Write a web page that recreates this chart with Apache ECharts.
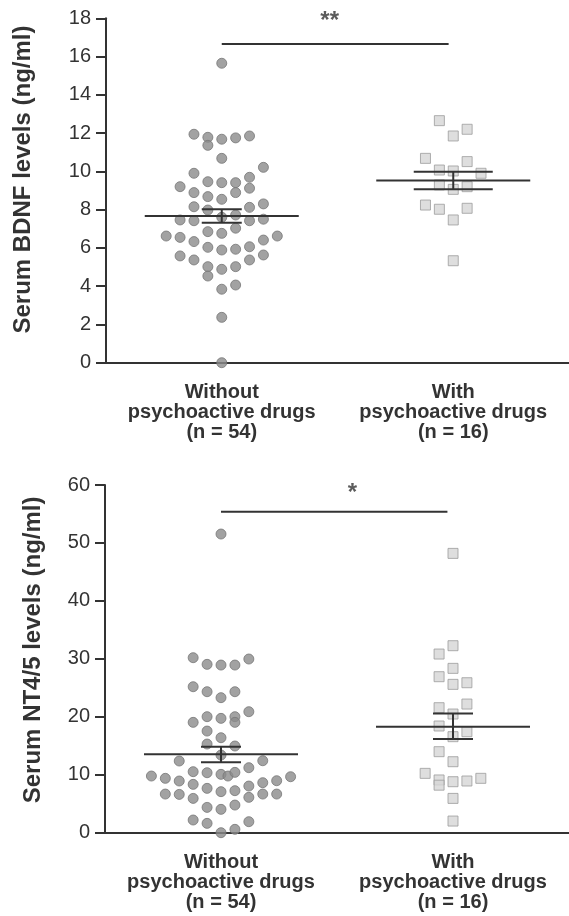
<!DOCTYPE html>
<html>
<head>
<meta charset="utf-8">
<script src="https://cdn.jsdelivr.net/npm/echarts@6/dist/echarts.min.js"></script>
<style>
  html, body { margin: 0; padding: 0; background: #fff; }
  #main { width: 569px; height: 916px; }
</style>
</head>
<body>
<div id="main"></div>
<script>
// groups on the x axis
const groups = ['Without\npsychoactive drugs\n(n = 54)', 'With\npsychoactive drugs\n(n = 16)'];

// swarm points: [column offset, value]
const bdnfWithout = [
  [0, 15.65], [-2, 11.94], [-1, 11.78], [0, 11.68], [1, 11.75], [2, 11.85], [-1, 11.36], [0, 10.68],
  [3, 10.21], [-2, 9.90], [2, 9.69], [-3, 9.20], [-1, 9.46], [0, 9.41], [1, 9.41], [2, 9.12],
  [-2, 8.89], [-1, 8.68], [0, 8.54], [1, 8.89], [-2, 8.15], [-1, 7.98], [2, 8.12], [3, 8.30],
  [-3, 7.46], [-2, 7.42], [0, 7.60], [1, 7.72], [2, 7.42], [3, 7.50], [-4, 6.62], [-3, 6.55],
  [-2, 6.33], [-1, 6.85], [0, 6.76], [1, 7.03], [3, 6.41], [4, 6.62], [-3, 5.58], [-2, 5.37],
  [-1, 6.03], [0, 5.89], [1, 5.93], [2, 6.06], [2, 5.37], [3, 5.63], [-1, 5.02], [0, 4.88],
  [1, 5.02], [-1, 4.53], [0, 3.84], [1, 4.06], [0, 2.37], [0, 0]
];
const bdnfWith = [
  [-1, 12.65], [1, 12.20], [0, 11.85], [-2, 10.68], [1, 10.51], [-1, 10.07], [0, 10.02], [2, 9.90],
  [-1, 9.29], [0, 9.06], [1, 9.20], [-2, 8.24], [-1, 8.02], [1, 8.07], [0, 7.46], [0, 5.33]
];
const ntWithout = [
  [0, 51.54], [-2, 30.2], [-1, 29.05], [0, 28.93], [1, 28.93], [2, 29.97], [-2, 25.19], [-1, 24.33],
  [0, 23.30], [1, 24.33], [2, 20.88], [-2, 19.04], [-1, 20.02], [0, 19.73], [1, 20.02], [1, 19.04],
  [-1, 17.54], [0, 16.39], [-1, 15.30], [1, 14.96], [0, 13.40], [-3, 12.37], [3, 12.42], [2, 11.22],
  [-2, 10.53], [-1, 10.35], [0, 10.07], [0.5, 9.78], [1, 10.41], [-5, 9.78], [-4, 9.38], [-3, 8.92],
  [-2, 8.34], [-1, 7.65], [0, 7.08], [1, 7.25], [2, 8.05], [3, 8.63], [4, 8.97], [5, 9.66],
  [-4, 6.67], [-3, 6.61], [-2, 5.92], [2, 6.10], [3, 6.67], [4, 6.67], [-1, 4.37], [0, 4.03],
  [1, 4.77], [-2, 2.19], [-1, 1.61], [2, 1.90], [0, 0], [1, 0.58]
];
const ntWith = [
  [0, 48.2], [0, 32.27], [-1, 30.83], [0, 28.36], [-1, 26.92], [0, 25.60], [1, 25.88], [-1, 21.57],
  [1, 22.20], [0, 20.48], [-1, 18.41], [1, 17.43], [0, 16.57], [-1, 13.98], [0, 12.25], [-2, 10.24],
  [-1, 9.1], [-1, 8.2], [0, 8.80], [1, 8.92], [2, 9.38], [0, 5.92], [0, 2.01]
];

// mean and SEM per group
const bdnfMean = [7.67, 9.52];
const bdnfSemLow = [7.32, 9.06];
const bdnfSemHigh = [8.02, 9.98];
const ntMean = [13.52, 18.29];
const ntSemLow = [12.14, 16.16];
const ntSemHigh = [14.84, 20.59];

// significance brackets: [from group, to group, level]
const bdnfSig = [0, 0.98, 16.66];
const ntSig = [0, 0.976, 55.39];
const bdnfStars = '**';
const ntStars = '*';

const colStep = 0.06;
const ink = '#333';

function swarm(points, groupIdx) {
  return points.map(p => [groupIdx + p[0] * colStep, p[1]]);
}

function meanSem(mean, lo, hi) {
  return mean.map((m, i) => [i, m, lo[i], hi[i]]);
}

function meanSemSeries(data, xi, yi, capHalf) {
  return {
    type: 'custom',
    xAxisIndex: xi,
    yAxisIndex: yi,
    z: 5,
    data: data,
    renderItem: function (params, api) {
      const x = api.value(0);
      const pm = api.coord([x, api.value(1)]);
      const plo = api.coord([x, api.value(2)]);
      const phi = api.coord([x, api.value(3)]);
      const c = capHalf[params.dataIndex];
      const style = {stroke: ink, lineWidth: 2};
      return {
        type: 'group',
        children: [
          {type: 'line', shape: {x1: pm[0] - 77, y1: pm[1], x2: pm[0] + 77, y2: pm[1]}, style: style},
          {type: 'line', shape: {x1: plo[0] - c, y1: plo[1], x2: plo[0] + c, y2: plo[1]}, style: style},
          {type: 'line', shape: {x1: phi[0] - c, y1: phi[1], x2: phi[0] + c, y2: phi[1]}, style: style},
          {type: 'line', shape: {x1: plo[0], y1: plo[1], x2: phi[0], y2: phi[1]}, style: style}
        ]
      };
    }
  };
}

function catAxis(gridIndex) {
  return {
    type: 'category',
    gridIndex: gridIndex,
    data: groups,
    axisLine: {onZero: false, lineStyle: {color: ink, width: 2}},
    axisTick: {alignWithLabel: true, length: 9, lineStyle: {color: ink, width: 2}},
    axisLabel: {
      interval: 0,
      margin: 20,
      color: ink,
      fontSize: 20,
      fontWeight: 'bold',
      lineHeight: 20,
      fontFamily: 'Liberation Sans'
    }
  };
}

function valAxisX(gridIndex) {
  return {type: 'value', gridIndex: gridIndex, min: -0.5, max: 1.5, show: false};
}

// shift is how far the name sits above the axis middle
function valAxisY(gridIndex, max, interval, name, gap, shift) {
  return {
    type: 'value',
    gridIndex: gridIndex,
    min: 0,
    max: max,
    interval: interval,
    name: name,
    nameLocation: 'middle',
    nameGap: gap,
    nameTextStyle: {color: ink, fontSize: 24, fontWeight: 'bold', fontFamily: 'Liberation Sans',
      padding: [0, 0, 0, shift * 2]},
    splitLine: {show: false},
    axisLine: {show: true, onZero: false, lineStyle: {color: ink, width: 2}},
    axisTick: {show: true, length: 10, lineStyle: {color: ink, width: 2}},
    axisLabel: {margin: 15, color: ink, fontSize: 20, fontFamily: 'Liberation Sans'}
  };
}

const dotStyle = {color: '#8b8b8b', borderColor: '#777', borderWidth: 1};
const squareStyle = {color: '#d6d6d6', borderColor: '#9c9c9c', borderWidth: 1};
const starLabel = {show: true, position: 'inside', color: ink, fontSize: 24,
  fontWeight: 'bold', fontFamily: 'Liberation Sans'};

const chart = echarts.init(document.getElementById('main'));
const option = {
  animation: false,
  backgroundColor: '#fff',
  grid: [
    {left: 106, top: 18.3, width: 464, height: 344.4},
    {left: 105, top: 485, width: 469, height: 347.7}
  ],
  xAxis: [catAxis(0), valAxisX(0), catAxis(1), valAxisX(1)],
  yAxis: [
    valAxisY(0, 18, 2, 'Serum BDNF levels (ng/ml)', 71, 11),
    valAxisY(1, 60, 10, 'Serum NT4/5 levels (ng/ml)', 60, 9)
  ],
  series: [
    {type: 'scatter', xAxisIndex: 1, yAxisIndex: 0, symbol: 'circle', symbolSize: 10, clip: false,
      itemStyle: dotStyle, data: swarm(bdnfWithout, 0)},
    {type: 'scatter', xAxisIndex: 1, yAxisIndex: 0, symbol: 'rect', symbolSize: 10, clip: false,
      itemStyle: squareStyle, data: swarm(bdnfWith, 1)},
    {type: 'scatter', xAxisIndex: 3, yAxisIndex: 1, symbol: 'circle', symbolSize: 10, clip: false,
      itemStyle: dotStyle, data: swarm(ntWithout, 0)},
    {type: 'scatter', xAxisIndex: 3, yAxisIndex: 1, symbol: 'rect', symbolSize: 10, clip: false,
      itemStyle: squareStyle, data: swarm(ntWith, 1)},
    meanSemSeries(meanSem(bdnfMean, bdnfSemLow, bdnfSemHigh), 1, 0, [20, 39.5]),
    meanSemSeries(meanSem(ntMean, ntSemLow, ntSemHigh), 3, 1, [20, 20]),
    {type: 'line', xAxisIndex: 1, yAxisIndex: 0, symbol: 'none', silent: true,
      lineStyle: {color: ink, width: 2},
      data: [[bdnfSig[0], bdnfSig[2]], [bdnfSig[1], bdnfSig[2]]]},
    {type: 'line', xAxisIndex: 3, yAxisIndex: 1, symbol: 'none', silent: true,
      lineStyle: {color: ink, width: 2},
      data: [[ntSig[0], ntSig[2]], [ntSig[1], ntSig[2]]]},
    {type: 'scatter', xAxisIndex: 1, yAxisIndex: 0, symbolSize: 0, clip: false, silent: true,
      label: Object.assign({formatter: bdnfStars}, starLabel),
      data: [[0.466, 17.86]]},
    {type: 'scatter', xAxisIndex: 3, yAxisIndex: 1, symbolSize: 0, clip: false, silent: true,
      label: Object.assign({formatter: ntStars}, starLabel),
      data: [[0.566, 58.6]]}
  ]
};
chart.setOption(option);
</script>
</body>
</html>
